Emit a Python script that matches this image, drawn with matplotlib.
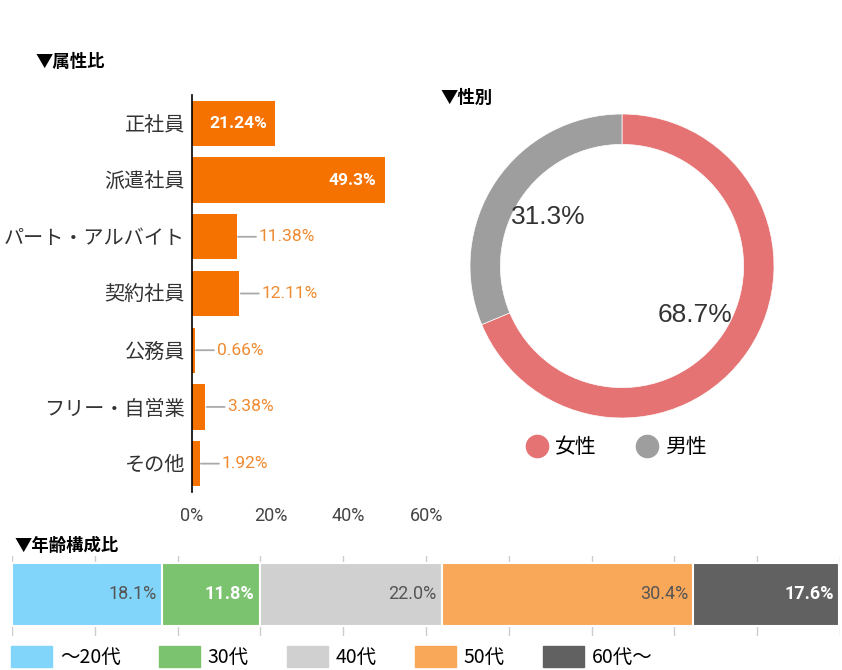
import numpy as np
import matplotlib.pyplot as plt
from matplotlib.patches import Rectangle
from matplotlib.lines import Line2D

plt.rcParams['font.family'] = ['Roboto', 'Noto Sans CJK JP', 'DejaVu Sans']

# data
job_labels = ['正社員', '派遣社員', 'パート・アルバイト', '契約社員', '公務員', 'フリー・自営業', 'その他']
job_values = [21.24, 49.3, 11.38, 12.11, 0.66, 3.38, 1.92]
job_texts = ['21.24%', '49.3%', '11.38%', '12.11%', '0.66%', '3.38%', '1.92%']

sex_labels = ['女性', '男性']
sex_values = [68.7, 31.3]
sex_colors = ['#e57373', '#9e9e9e']

age_labels = ['～20代', '30代', '40代', '50代', '60代～']
age_values = [18.1, 11.8, 22.0, 30.4, 17.6]
age_colors = ['#81d4fa', '#7cc36f', '#d0d0d0', '#f9a85a', '#616161']
age_text = ['#555555', 'white', '#555555', '#555555', 'white']
age_bold = [False, True, False, False, True]

W, H = 842, 670
fig = plt.figure(figsize=(W / 100, H / 100), dpi=100)


def box(x0, y0, x1, y1):
    # pixel box (top-left origin) -> figure fraction
    return [x0 / W, 1 - y1 / H, (x1 - x0) / W, (y1 - y0) / H]


# ---- bar chart ----
ax = fig.add_axes(box(192, 95, 427, 492))
y = np.arange(len(job_values))
ax.barh(y, job_values, height=0.8, color='#f57200')
ax.set_ylim(len(job_values) - 0.5, -0.5)
ax.set_xlim(0, 60)
ax.set_xticks([0, 20, 40, 60])
ax.set_xticklabels(['0%', '20%', '40%', '60%'], fontsize=13, color='#444444')
ax.set_yticks(y)
ax.set_yticklabels(job_labels, fontsize=14.5, color='#333333')
ax.tick_params(length=0)
ax.tick_params(axis='x', pad=11)
ax.tick_params(axis='y', pad=5)
for s in ['top', 'right', 'bottom']:
    ax.spines[s].set_visible(False)
ax.spines['left'].set_color('black')
ax.spines['left'].set_linewidth(1.2)
for i, (v, txt) in enumerate(zip(job_values, job_texts)):
    if v > 15:
        ax.annotate(txt, xy=(v, i), xytext=(-6, 0), textcoords='offset points',
                    ha='right', va='center', color='white', fontsize=12.5, fontweight='bold')
    else:
        ax.annotate(txt, xy=(v, i), xytext=(16, 0), textcoords='offset points',
                    ha='left', va='center', color='#f08a30', fontsize=12.5,
                    arrowprops=dict(arrowstyle='-', color='#aaaaaa', lw=1.3,
                                    shrinkA=0, shrinkB=1))
fig.text(35 / W, 1 - 62 / H, '▼属性比', fontsize=12.5, fontweight='bold', va='center',
         family=['Noto Sans CJK JP', 'DejaVu Sans'])

# ---- donut ----
axp = fig.add_axes(box(622 - 170, 266 - 170, 622 + 170, 266 + 170))
axp.pie(sex_values, colors=sex_colors, startangle=90, counterclock=False,
        wedgeprops=dict(width=0.2, edgecolor='white', linewidth=0.5),
        autopct='%.1f%%', pctdistance=0.58,
        textprops=dict(fontsize=19, color='#333333', family='Liberation Sans'))
axp.set_xlim(-170 / 152, 170 / 152)
axp.set_ylim(-170 / 152, 170 / 152)
axp.set_aspect('equal')
fig.text(440 / W, 1 - 98 / H, '▼性別', fontsize=12.5, fontweight='bold', va='center',
         family=['Noto Sans CJK JP', 'DejaVu Sans'])
handles = [Line2D([], [], marker='o', ls='', markersize=16, color=c) for c in sex_colors]
fig.legend(handles, sex_labels, loc='center left', bbox_to_anchor=(527 / W, 1 - 447 / H),
           ncol=2, frameon=False, handlelength=1.0, handletextpad=0.35, columnspacing=1.9,
           borderpad=0, borderaxespad=0,
           prop=dict(size=15, family='Noto Sans CJK JP'))

# ---- age stacked bar ----
axa = fig.add_axes(box(12, 556, 840, 636))
axa.set_xlim(0, 100)
axa.set_ylim(0, 1)
axa.set_xticks(np.arange(0, 101, 10))
axa.xaxis.grid(True, color='#cccccc', lw=1)
axa.set_axisbelow(True)
axa.tick_params(length=0, labelbottom=False, labelleft=False)
axa.set_yticks([])
for s in axa.spines.values():
    s.set_visible(False)
left = 0
for v, c, tc, b in zip(age_values, age_colors, age_text, age_bold):
    axa.barh(0.52, v, left=left, height=0.79, color=c, edgecolor='white', linewidth=1.5)
    axa.text(left + v - 0.6, 0.52, '%.1f%%' % v, ha='right', va='center', fontsize=13,
             color=tc, fontweight='bold' if b else 'normal')
    left += v
fig.text(14 / W, 1 - 546 / H, '▼年齢構成比', fontsize=12.5, fontweight='bold', va='center',
         family=['Noto Sans CJK JP', 'DejaVu Sans'])
handles = [Rectangle((0, 0), 1, 1, color=c) for c in age_colors]
fig.legend(handles, age_labels, loc='center left', bbox_to_anchor=(11 / W, 1 - 657 / H),
           ncol=5, frameon=False, handlelength=2.1, handleheight=1.3,
           handletextpad=0.42, columnspacing=1.95, borderpad=0, borderaxespad=0,
           prop=dict(size=14, family=['Noto Sans CJK JP', 'DejaVu Sans']))

fig.savefig('out.png', dpi=100)
